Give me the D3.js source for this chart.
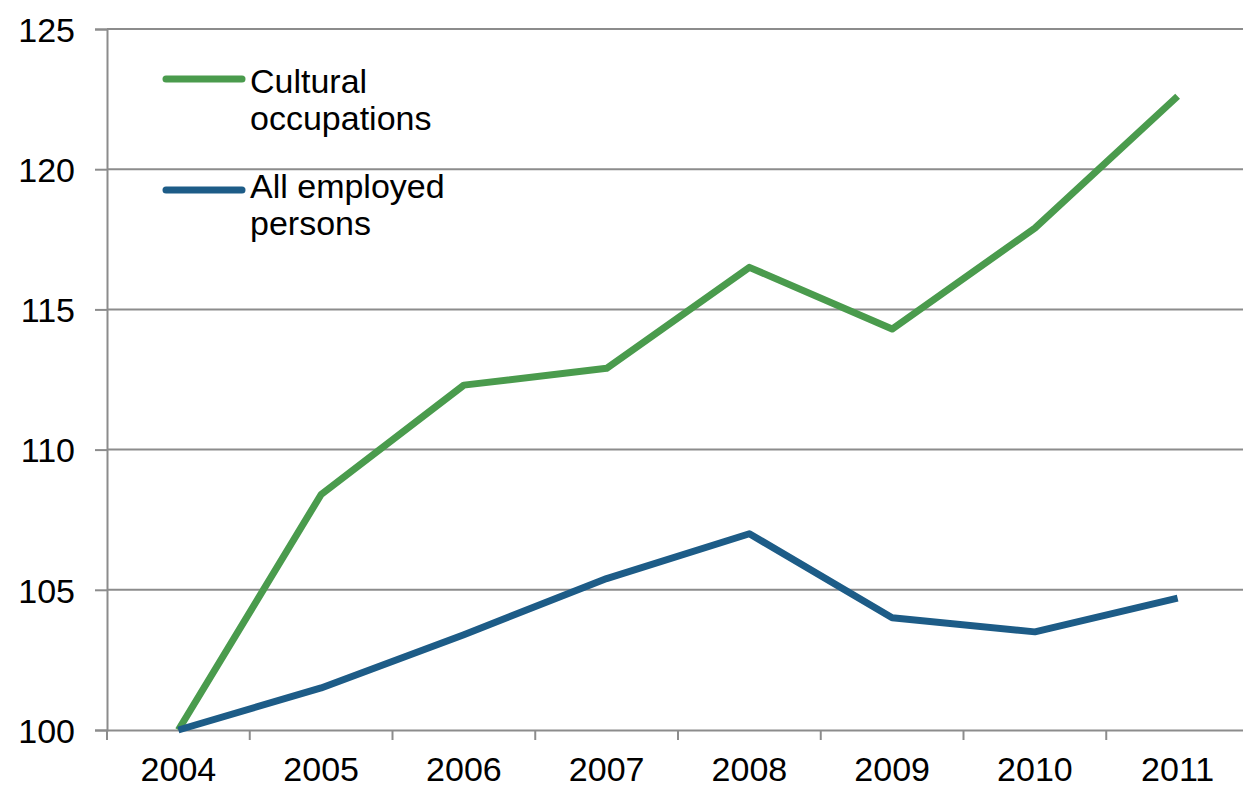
<!DOCTYPE html>
<html>
<head>
<meta charset="utf-8">
<script src="https://cdn.jsdelivr.net/npm/d3@7"></script>
<style>
  body { margin: 0; background: #fff; }
  text { font-family: "Liberation Sans", Arial, sans-serif; fill: #000; }
</style>
</head>
<body>
<svg id="chart" width="1243" height="789"></svg>
<script>
// data
const years = ["2004", "2005", "2006", "2007", "2008", "2009", "2010", "2011"];
const cultural = [100, 108.4, 112.3, 112.9, 116.5, 114.3, 117.9, 122.6];
const allEmployed = [100, 101.5, 103.4, 105.4, 107.0, 104.0, 103.5, 104.7];
const yTicks = [100, 105, 110, 115, 120, 125];

const series = [
  { name: ["Cultural", "occupations"], values: cultural, color: "#4a9b4d" },
  { name: ["All employed", "persons"], values: allEmployed, color: "#1d5c87" }
];

const svg = d3.select("#chart");
const plotL = 107, plotR = 1249, plotT = 29, plotB = 730;

const x = d3.scaleBand().domain(years).range([plotL, plotR]);
const y = d3.scaleLinear().domain([100, 125]).range([plotB, plotT]);

// gridlines
svg.append("g")
  .selectAll("line")
  .data(yTicks.slice(1))
  .enter().append("line")
    .attr("x1", plotL).attr("x2", plotR)
    .attr("y1", d => y(d)).attr("y2", d => y(d))
    .attr("stroke", "#8c8c8c")
    .attr("stroke-width", 2);

// y axis
const yAxis = svg.append("g")
  .attr("transform", `translate(${plotL},0)`)
  .call(d3.axisLeft(y).tickValues(yTicks).tickSize(12).tickPadding(20));
yAxis.select(".domain").attr("stroke", "#8c8c8c").attr("stroke-width", 2);
yAxis.selectAll(".tick line").attr("stroke", "#8c8c8c").attr("stroke-width", 2);
yAxis.selectAll("text").style("font-size", "34px").attr("dy", "0.36em");

// x axis, ticks between categories
const xAxis = svg.append("g")
  .attr("transform", `translate(0,${plotB})`)
  .call(d3.axisBottom(x).tickSize(0).tickPadding(27));
xAxis.select(".domain").attr("stroke", "#8c8c8c").attr("stroke-width", 2);
xAxis.selectAll("text").style("font-size", "34px");
xAxis.append("g")
  .selectAll("line")
  .data(years)
  .enter().append("line")
    .attr("x1", d => x(d)).attr("x2", d => x(d))
    .attr("y1", 0).attr("y2", 10)
    .attr("stroke", "#8c8c8c")
    .attr("stroke-width", 2);

// lines
const line = d3.line()
  .x((d, i) => x(years[i]) + x.bandwidth() / 2)
  .y(d => y(d));

svg.selectAll("path.series")
  .data(series)
  .enter().append("path")
    .attr("class", "series")
    .attr("d", d => line(d.values))
    .attr("fill", "none")
    .attr("stroke", d => d.color)
    .attr("stroke-width", 7)
    .attr("stroke-linejoin", "round");

// legend
const legendRows = [{ lineY: 79, textY: 93 }, { lineY: 190, textY: 198 }];
const lg = svg.append("g");
series.forEach((s, i) => {
  const r = legendRows[i];
  lg.append("line")
    .attr("x1", 166).attr("x2", 242)
    .attr("y1", r.lineY).attr("y2", r.lineY)
    .attr("stroke", s.color)
    .attr("stroke-width", 7)
    .attr("stroke-linecap", "round");
  const t = lg.append("text")
    .attr("x", 250).attr("y", r.textY)
    .style("font-size", "34px");
  s.name.forEach((n, k) => {
    t.append("tspan").attr("x", 250).attr("dy", k === 0 ? 0 : 37).text(n);
  });
});
</script>
</body>
</html>
